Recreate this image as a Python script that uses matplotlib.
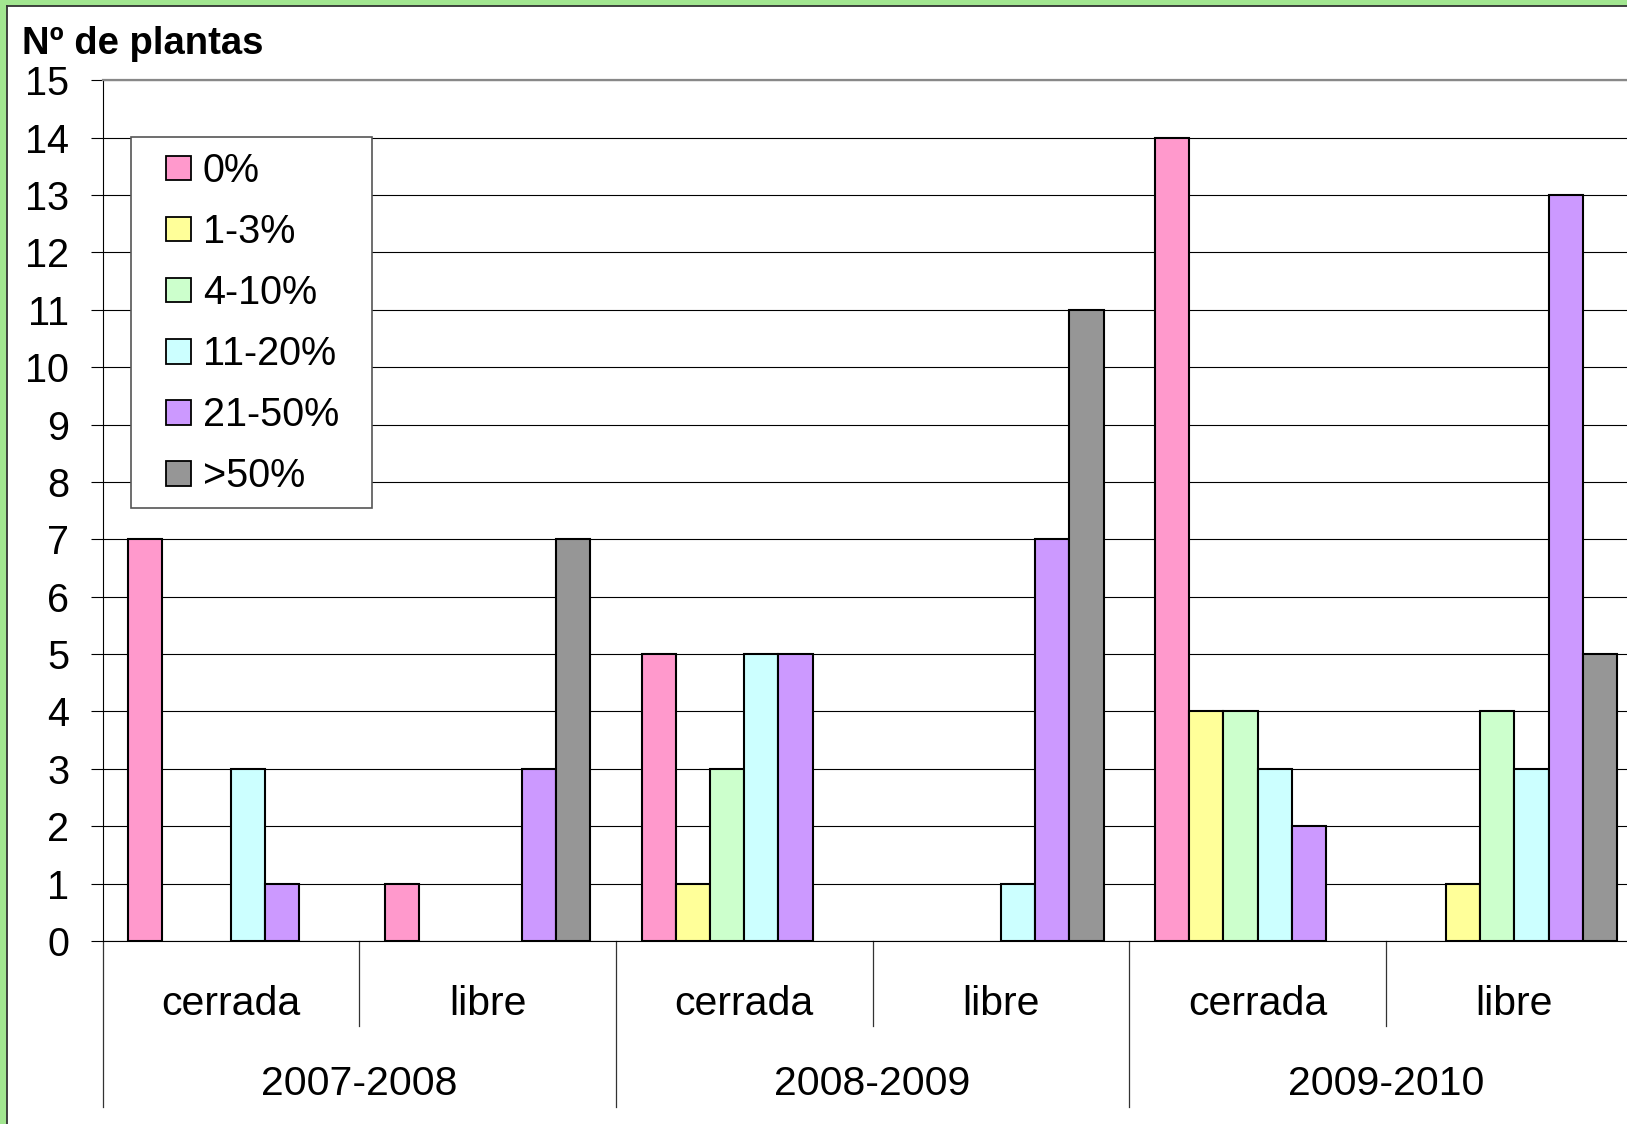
import matplotlib
matplotlib.use("Agg")
import matplotlib.pyplot as plt
import matplotlib.patches as patches
from matplotlib.lines import Line2D
from matplotlib.transforms import blended_transform_factory

plt.rcParams['font.family'] = ['Liberation Sans', 'DejaVu Sans']

W, H = 1627, 1124

# data
years = ["2007-2008", "2008-2009", "2009-2010"]
sites = ["cerrada", "libre"]
classes = ["0%", "1-3%", "4-10%", "11-20%", "21-50%", ">50%"]
colors = ["#FF99CC", "#FFFF99", "#CCFFCC", "#CCFFFF", "#CC99FF", "#969696"]

# plants per damage class, one list per class, in order
# 07-08 cerrada, 07-08 libre, 08-09 cerrada, 08-09 libre, 09-10 cerrada, 09-10 libre
n_0 = [7, 1, 5, 0, 14, 0]
n_1_3 = [0, 0, 1, 0, 4, 1]
n_4_10 = [0, 0, 3, 0, 4, 4]
n_11_20 = [3, 0, 5, 1, 3, 3]
n_21_50 = [1, 3, 5, 7, 2, 13]
n_50 = [0, 7, 0, 11, 0, 5]
series = [n_0, n_1_3, n_4_10, n_11_20, n_21_50, n_50]


def fx(px):
    return px / W


def fy(py):
    return 1 - py / H


fig = plt.figure(figsize=(W / 100, H / 100), dpi=100, facecolor="#a2e690")

# white page inside the green frame
fig.add_artist(patches.Rectangle((fx(6.5), 0), 1, fy(5.5), transform=fig.transFigure,
                                 fc="white", ec="none", zorder=-2))
fig.add_artist(Line2D([fx(6.5), fx(6.5)], [0, fy(5.5)], transform=fig.transFigure,
                      color="#333333", lw=1.3, zorder=-1))
fig.add_artist(Line2D([fx(6.5), 1], [fy(5.5), fy(5.5)], transform=fig.transFigure,
                      color="#333333", lw=1.3, zorder=-1))

x0, y_top, y_bot = 102.5, 80.3, 941.0
cat_w = 256.7
ax = fig.add_axes([fx(x0), fy(y_bot), fx(6 * cat_w), (y_bot - y_top) / H])
ax.set_xlim(0, 6)
ax.set_ylim(0, 15)

bw = 1 / 7.5
ncat = len(n_0)
for j, (vals, c) in enumerate(zip(series, colors)):
    xs = [i + 0.5 + (j - 2.5) * bw for i in range(ncat)]
    # empty classes get no outline, so nothing shows on the base line
    lws = [1.5 if v > 0 else 0 for v in vals]
    ax.bar(xs, vals, width=bw, color=c, edgecolor="black", linewidth=lws, zorder=3)

ax.set_axisbelow(True)
ax.set_yticks(range(0, 16))
ax.yaxis.grid(True, color="black", linewidth=0.8)
ax.tick_params(axis="y", length=9, width=0.8, pad=15, labelsize=28.5, direction="out")
ax.set_xticks([])
ax.spines["right"].set_visible(False)
ax.spines["top"].set_color("#888888")
ax.spines["top"].set_linewidth(1.6)
ax.spines["left"].set_linewidth(0.8)
ax.spines["bottom"].set_linewidth(0.8)

# two-level category axis
tr = blended_transform_factory(ax.transData, fig.transFigure)
for k in range(ncat + 1):
    low = fy(1107) if k % 2 == 0 else fy(1026)
    ax.add_line(Line2D([k, k], [fy(y_bot), low], transform=tr, color="#333333",
                       lw=0.9, clip_on=False))
for i in range(ncat):
    ax.text(i + 0.5, fy(1015), sites[i % 2], transform=tr, ha="center", va="baseline",
            fontsize=29.5, clip_on=False)
for g, yr in enumerate(years):
    ax.text(2 * g + 1, fy(1095), yr, transform=tr, ha="center", va="baseline",
            fontsize=29.5, clip_on=False)

fig.text(fx(21.5), fy(54.3), "Nº de plantas", fontsize=27.5, fontweight="bold",
         ha="left", va="baseline")

# legend box
fig.add_artist(patches.Rectangle((fx(131), fy(508)), fx(372 - 131), (508 - 137) / H,
                                 transform=fig.transFigure, fc="white", ec="#555555",
                                 lw=1.2, zorder=4))
sq = 24.5
for j, (lab, c) in enumerate(zip(classes, colors)):
    cy = 168 + j * 61.1
    fig.add_artist(patches.Rectangle((fx(166), fy(cy + sq / 2)), fx(sq), sq / H,
                                     transform=fig.transFigure, fc=c, ec="black",
                                     lw=1.3, zorder=5))
    fig.text(fx(203), fy(cy + 13.5), lab, fontsize=28.5, ha="left", va="baseline", zorder=6)

fig.savefig("out.png", dpi=100, facecolor=fig.get_facecolor())
